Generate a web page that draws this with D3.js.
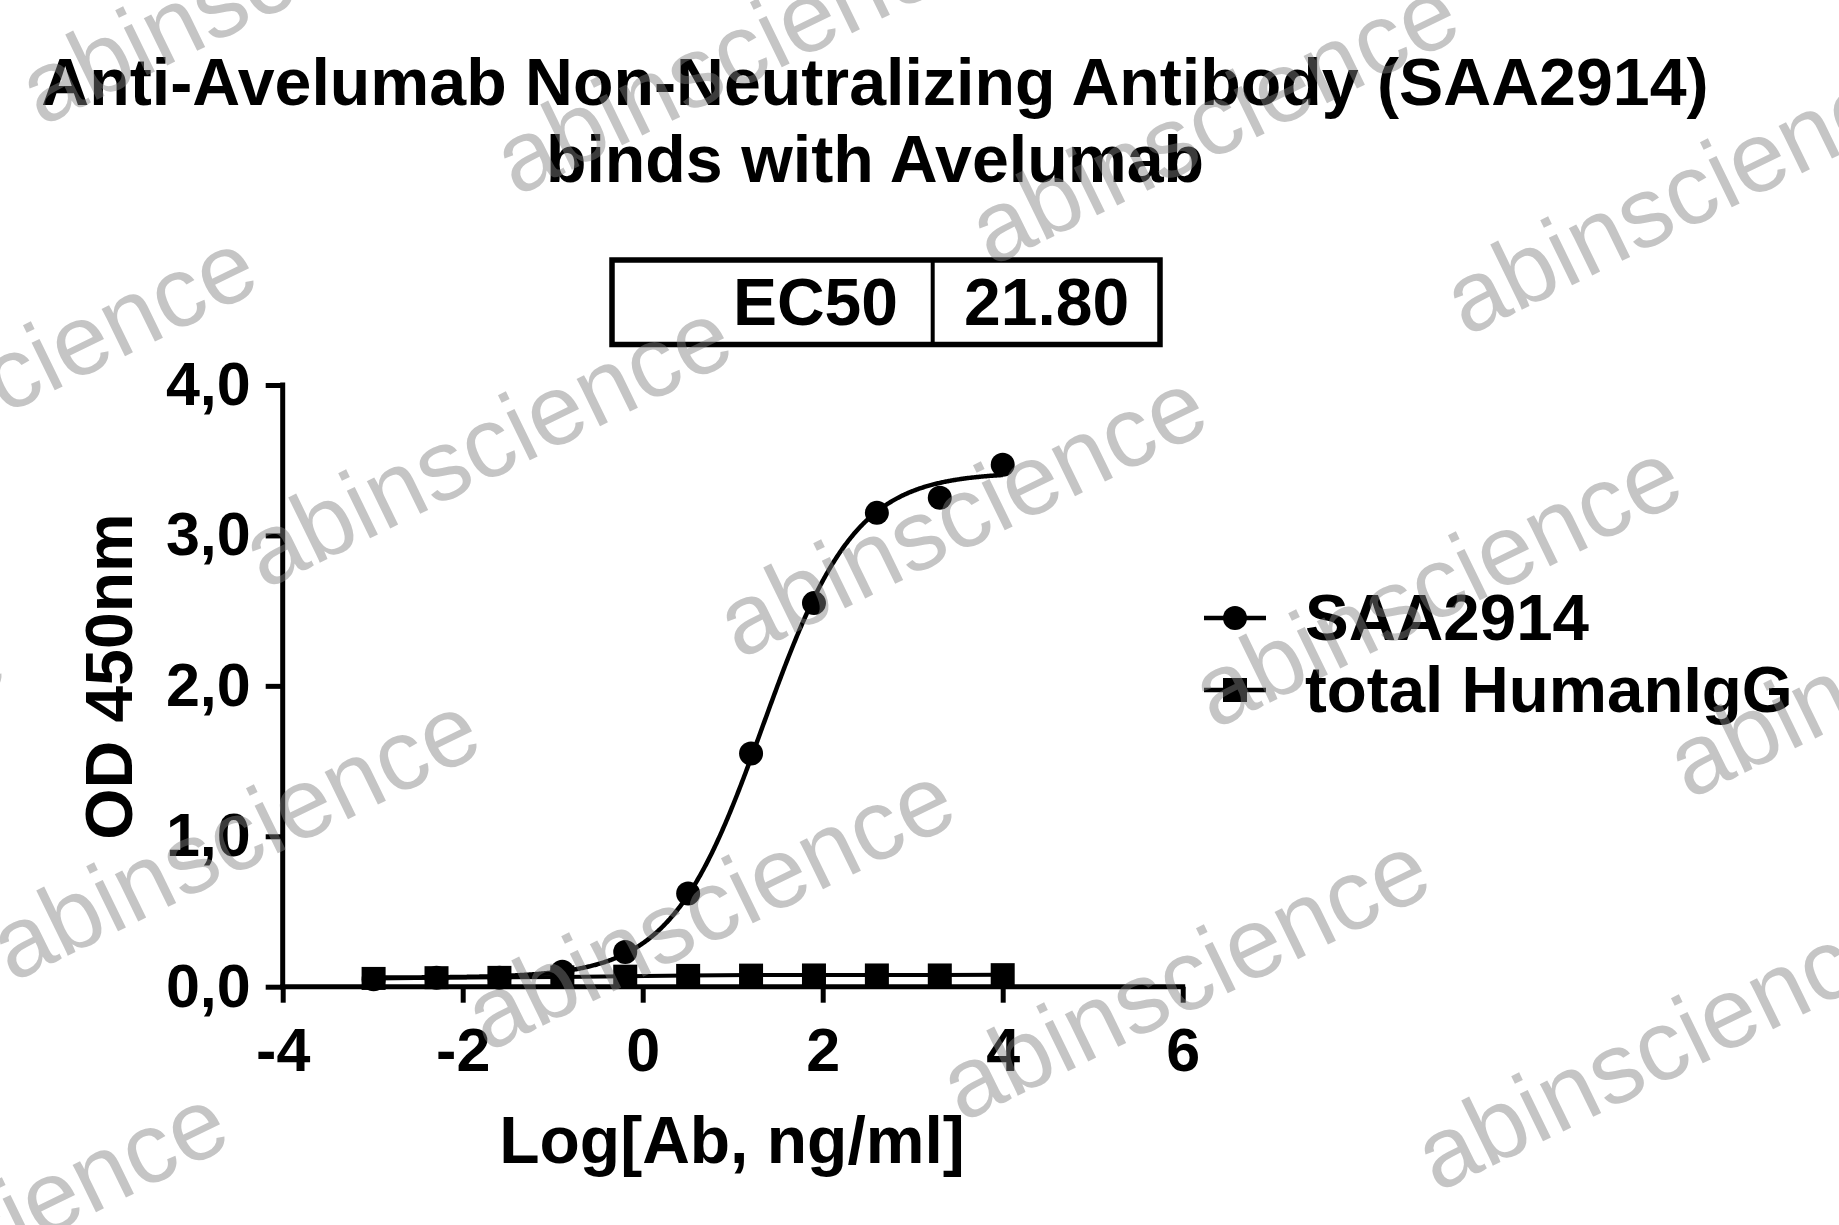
<!DOCTYPE html>
<html>
<head>
<meta charset="utf-8">
<script src="https://cdn.jsdelivr.net/npm/d3@7"></script>
<style>
  html, body { margin: 0; padding: 0; background: #ffffff; }
  svg { display: block; }
  text { font-family: "Liberation Sans", Arial, Helvetica, sans-serif; }
</style>
</head>
<body>
<svg id="chart" width="1839" height="1225"></svg>
<script>
// ---------------- data ----------------
const titleLines = ["Anti-Avelumab Non-Neutralizing Antibody (SAA2914)", "binds with Avelumab"];
const seriesNames = ["SAA2914", "total HumanIgG"];
const logConc = [-2.990, -2.291, -1.592, -0.893, -0.194, 0.505, 1.204, 1.903, 2.602, 3.301, 4.000];
const saa2914 = [0.05, 0.06, 0.06, 0.10, 0.23, 0.62, 1.55, 2.55, 3.15, 3.25, 3.47];
const humanIgG = [0.055, 0.060, 0.062, 0.065, 0.070, 0.075, 0.077, 0.078, 0.078, 0.078, 0.080];
const xTicks = [-4, -2, 0, 2, 4, 6];
const yTicks = [0, 1, 2, 3, 4];
const ec50Label = "EC50";
const ec50Value = 21.80;
// 4PL fit parameters of the SAA2914 curve
const fitBottom = 0.06;
const fitTop = 3.42;
const fitHill = 0.85;
const watermarkText = "abinscience";

// ---------------- layout ----------------
const svg = d3.select("#chart");
const W = 1839, H = 1225;
const x = d3.scaleLinear().domain([-4, 6]).range([282.7, 1182.7]);
const y = d3.scaleLinear().domain([0, 4]).range([986.7, 385]);
const AXW = 5;

// title
svg.append("g").selectAll("text").data(titleLines).join("text")
  .attr("x", 875).attr("y", (d, i) => 105 + i * 77)
  .attr("text-anchor", "middle")
  .attr("font-size", 66.3).attr("font-weight", "bold")
  .text(d => d);

// EC50 box
const box = svg.append("g");
box.append("rect").attr("x", 612).attr("y", 260).attr("width", 548).attr("height", 84.5)
  .attr("fill", "none").attr("stroke", "#000").attr("stroke-width", 5.5);
box.append("line").attr("x1", 932.7).attr("x2", 932.7).attr("y1", 260).attr("y2", 344.5)
  .attr("stroke", "#000").attr("stroke-width", 4);
box.append("text").attr("x", 898).attr("y", 325).attr("text-anchor", "end")
  .attr("font-size", 66).attr("font-weight", "bold").text(ec50Label);
box.append("text").attr("x", 964).attr("y", 325).attr("text-anchor", "start")
  .attr("font-size", 66).attr("font-weight", "bold").text(ec50Value.toFixed(2));

// axes
const yAxis = d3.axisLeft(y).tickValues(yTicks).tickSize(17).tickSizeOuter(0).tickPadding(15)
  .tickFormat(d => d3.format(".1f")(d).replace(".", ","));
const gy = svg.append("g").attr("transform", `translate(${x(-4)},0)`).call(yAxis);
const xAxis = d3.axisBottom(x).tickValues(xTicks).tickSize(16).tickSizeOuter(0).tickPadding(25)
  .tickFormat(d => String(d));
const gx = svg.append("g").attr("transform", `translate(0,${y(0)})`).call(xAxis);
[gx, gy].forEach(g => {
  g.select(".domain").attr("stroke-width", AXW).attr("stroke", "#000");
  g.selectAll(".tick line").attr("stroke-width", AXW).attr("stroke", "#000");
  g.selectAll(".tick text").attr("font-size", 61).attr("font-weight", "bold")
    .attr("fill", "#000").attr("font-family", "'Liberation Sans', Arial, sans-serif");
});
gy.select(".domain").attr("d", `M0,${y(4) - 2.5}V${y(0) + 2.5}`);
gx.select(".domain").attr("d", `M${x(-4) - 2.5},0H${x(6) + 2.5}`);

// axis titles
svg.append("text")
  .attr("transform", `translate(131.7,676.5) rotate(-90)`)
  .attr("text-anchor", "middle").attr("font-size", 66).attr("font-weight", "bold")
  .text("OD 450nm");
svg.append("text").attr("x", 732).attr("y", 1163).attr("text-anchor", "middle")
  .attr("font-size", 66).attr("font-weight", "bold").text("Log[Ab, ng/ml]");

// data
const plot = svg.append("g");
const igg = logConc.map((c, i) => ({ x: c, y: humanIgG[i] }));
const saa = logConc.map((c, i) => ({ x: c, y: saa2914[i] }));
const logEC50 = Math.log10(ec50Value);
const fit = v => fitBottom + (fitTop - fitBottom) / (1 + Math.pow(10, (logEC50 - v) * fitHill));
const curveX = d3.range(logConc[0], logConc[logConc.length - 1] + 0.0001, 0.01);
const line = d3.line().x(d => x(d.x)).y(d => y(d.y));

plot.append("path").datum(igg).attr("d", line)
  .attr("fill", "none").attr("stroke", "#000").attr("stroke-width", 4);
plot.selectAll("rect.sq").data(igg).join("rect").attr("class", "sq")
  .attr("x", d => x(d.x) - 12).attr("y", d => y(d.y) - 11.5)
  .attr("width", 24).attr("height", 23).attr("fill", "#000");

plot.append("path").datum(curveX.map(v => ({ x: v, y: fit(v) }))).attr("d", line)
  .attr("fill", "none").attr("stroke", "#000").attr("stroke-width", 4.5);
plot.selectAll("circle.pt").data(saa).join("circle").attr("class", "pt")
  .attr("cx", d => x(d.x)).attr("cy", d => y(d.y)).attr("r", 12).attr("fill", "#000");

// legend
const leg = svg.append("g");
seriesNames.forEach((name, i) => {
  const cy = 618 + i * 72;
  leg.append("line").attr("x1", 1204).attr("x2", 1266).attr("y1", cy).attr("y2", cy)
    .attr("stroke", "#000").attr("stroke-width", 4.5);
  if (i === 0) {
    leg.append("circle").attr("cx", 1235).attr("cy", cy).attr("r", 12).attr("fill", "#000");
  } else {
    leg.append("rect").attr("x", 1223).attr("y", cy - 12).attr("width", 24).attr("height", 24).attr("fill", "#000");
  }
  leg.append("text").attr("x", 1305).attr("y", cy + 22).attr("font-size", 65.5)
    .attr("font-weight", "bold").text(name);
});

// watermark
const wm = svg.append("g").attr("pointer-events", "none");
const base = [264, 590], u = [475, 70], v = [223, 463];
for (let j = -1; j <= 2; j++) {
  for (let i = -2; i <= 3; i++) {
    if (j === 2 && i !== -2) continue;
    const px = base[0] + i * u[0] + j * v[0];
    const py = base[1] + i * u[1] + j * v[1];
    if (px > W + 50 || px < -600 || py < -50 || py > H + 300) continue;
    wm.append("text").attr("transform", `translate(${px},${py}) rotate(-26)`)
      .attr("font-size", 100).attr("fill", "#808080").attr("fill-opacity", 0.46)
      .text(watermarkText);
  }
}
</script>
</body>
</html>
